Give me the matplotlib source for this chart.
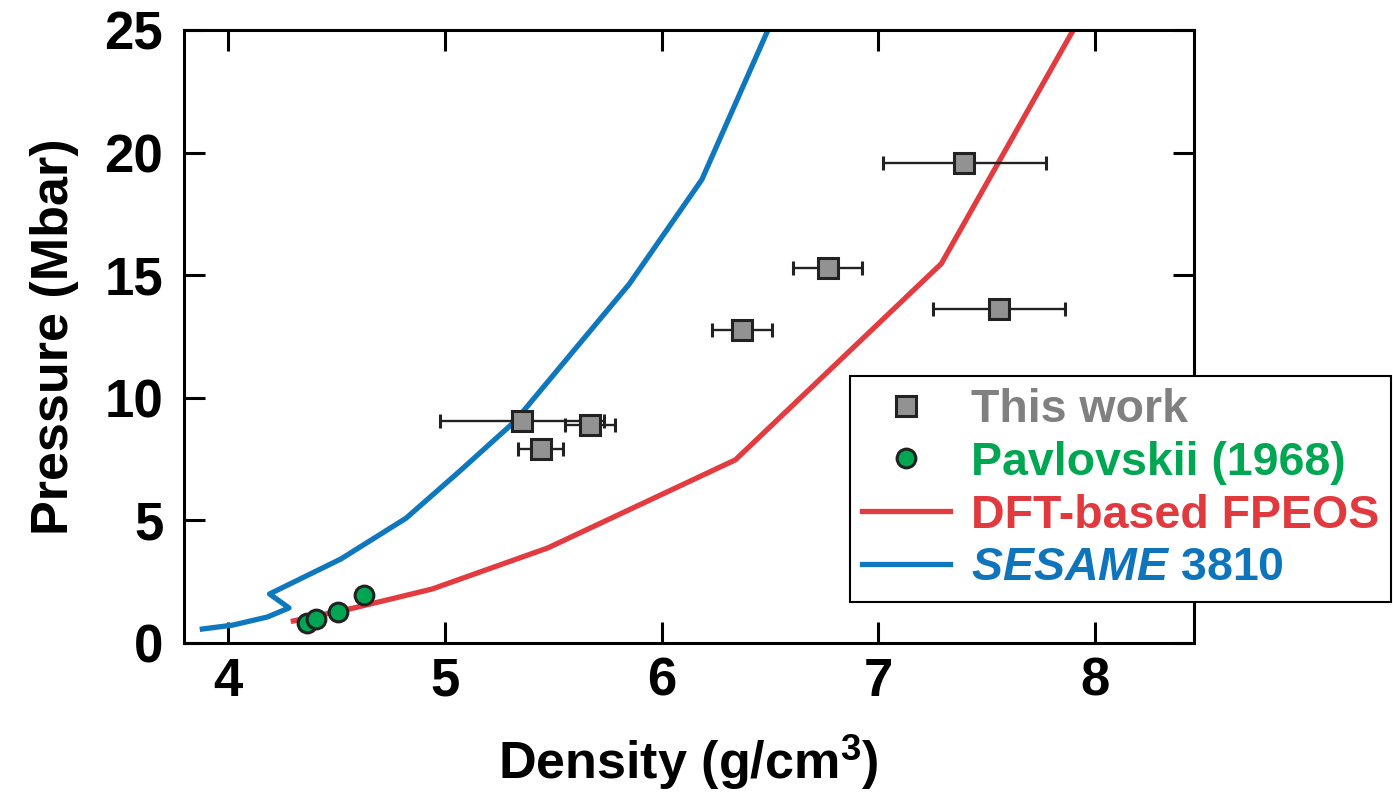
import numpy as np
import matplotlib
matplotlib.use("Agg")
import matplotlib.pyplot as plt

# Shock Hugoniot data: density (g/cm3) vs pressure (Mbar)
this_work_rho = [5.355, 5.668, 5.441, 6.371, 6.765, 7.555, 7.396]
this_work_rho_err = [0.378, 0.115, 0.104, 0.139, 0.158, 0.305, 0.377]
this_work_p = [9.07, 8.91, 7.93, 12.76, 15.28, 13.64, 19.59]

pavlovskii_rho = [4.362, 4.403, 4.508, 4.628]
pavlovskii_p = [0.83, 0.98, 1.28, 1.95]

fpeos_rho = [4.30, 4.58, 4.94, 5.475, 6.34, 7.29, 7.95]
fpeos_p = [0.90, 1.43, 2.20, 3.88, 7.47, 15.47, 25.8]

sesame_rho = [3.88, 4.02, 4.18, 4.28, 4.19, 4.52, 4.82, 5.06, 5.32, 5.60, 5.85, 6.185, 6.54]
sesame_p = [0.57, 0.73, 1.06, 1.43, 2.00, 3.43, 5.09, 6.95, 9.02, 11.99, 14.64, 18.9, 26.0]

x_ticks = [4, 5, 6, 7, 8]
y_ticks = [0, 5, 10, 15, 20, 25]

BLUE = "#0f77be"
RED = "#e23b40"
GREEN = "#00a651"
GRAY = "#929292"
EDGE = "#222222"

plt.rcParams["font.family"] = ["Liberation Sans", "DejaVu Sans"]
plt.rcParams["font.weight"] = "bold"
plt.rcParams["mathtext.fontset"] = "custom"
plt.rcParams["mathtext.rm"] = "Liberation Sans:bold"
plt.rcParams["mathtext.it"] = "Liberation Sans:italic:bold"
plt.rcParams["mathtext.bf"] = "Liberation Sans:bold"

W, H = 1393, 793
fig = plt.figure(figsize=(W / 100, H / 100), dpi=100)
ax = fig.add_axes([183.5 / W, (H - 643) / H, (1194 - 183.5) / W, 613 / H])

ax.plot(sesame_rho, sesame_p, color=BLUE, lw=3.8, zorder=2,
        label=r"$\mathit{SESAME}$ 3810")
ax.plot(fpeos_rho, fpeos_p, color=RED, lw=3.8, zorder=2,
        label="DFT-based FPEOS")

ax.errorbar(this_work_rho, this_work_p, xerr=this_work_rho_err, fmt="none",
            ecolor=EDGE, elinewidth=1.7, capsize=4.8, capthick=2.2, zorder=3)
ax.plot(this_work_rho, this_work_p, "s", ms=15, mfc=GRAY, mec=EDGE,
        mew=2.2, zorder=4, label="This work")
ax.plot(pavlovskii_rho, pavlovskii_p, "o", ms=13.5, mfc=GREEN, mec=EDGE,
        mew=2.2, zorder=4, label="Pavlovskii (1968)")

ax.set_xlim(3.793, 8.456)
ax.set_ylim(0, 25)
ax.set_xticks(x_ticks)
ax.set_yticks(y_ticks)

for s in ax.spines.values():
    s.set_linewidth(2.2)
ax.tick_params(direction="in", length=15, width=2.2, top=True, right=True,
               labelsize=38)
ax.tick_params(axis="x", pad=10)
ax.tick_params(axis="y", pad=14.5)

ax.set_xlabel("Density (g/cm$^3$)", fontsize=37.5, fontweight="bold")
ax.set_ylabel("Pressure (Mbar)", fontsize=37.5, fontweight="bold")
ax.xaxis.set_label_coords(0.5, -0.146)
ax.yaxis.set_label_coords(-0.103, 0.5)

handles, labels = ax.get_legend_handles_labels()
order = [2, 3, 1, 0]
leg = ax.legend([handles[i] for i in order], [labels[i] for i in order],
                loc="lower left", bbox_to_anchor=(0.6596, 0.0669),
                borderaxespad=0, frameon=True, fancybox=False,
                borderpad=0.25, labelspacing=0.19, handlelength=1.9,
                handletextpad=0.45, prop={"weight": "bold", "size": 33.5})
leg.get_frame().set_edgecolor("black")
leg.get_frame().set_linewidth(1.5)
leg.get_frame().set_alpha(1)
leg.set_zorder(10)
for txt, c in zip(leg.get_texts(), ["#808080", GREEN, "#e03a3e", "#0e75bc"]):
    txt.set_color(c)

# legend box runs past the right spine
leg.set_clip_on(False)

fig.savefig("out.png", dpi=100)
